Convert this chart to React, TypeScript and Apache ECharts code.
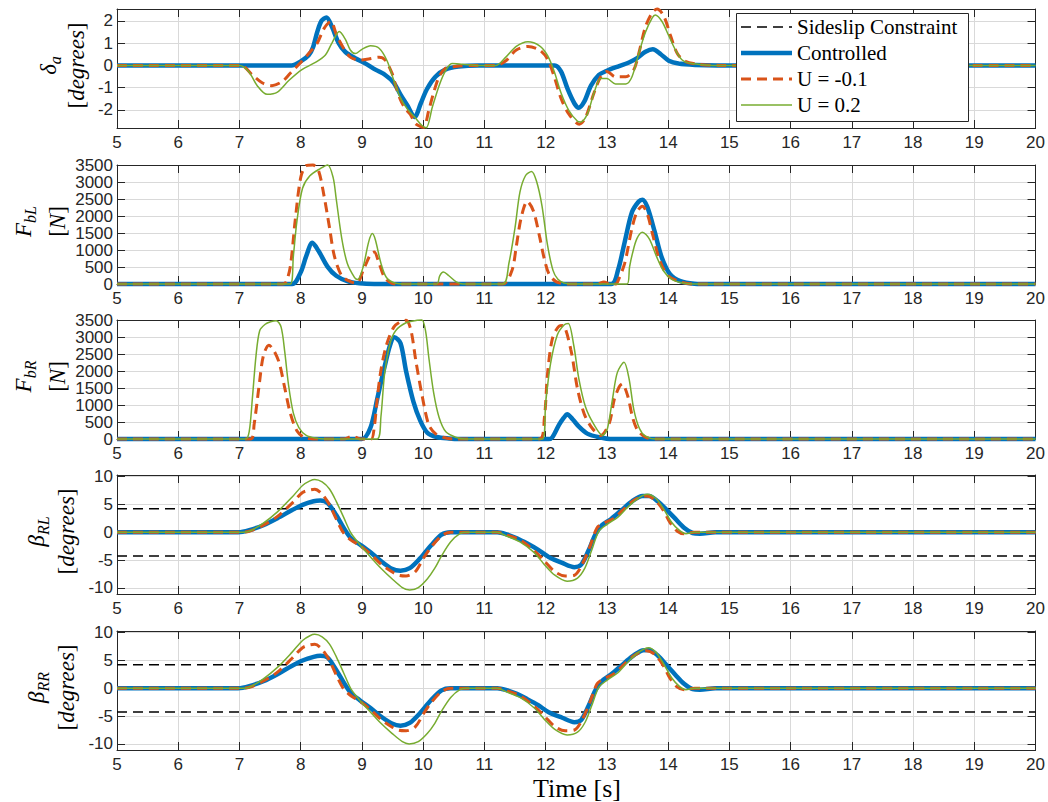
import React, { useEffect, useRef } from "react";
import * as echarts from "echarts";

type P = [number, number][];

const legendNames = ["Sideslip Constraint", "Controlled", "U = -0.1", "U = 0.2"];
const constraintLevel = 4.25;
const timeRange = [5, 20];

// ---- delta_a [degrees]
const daCtrl: P = [[5,0],[7.85,0],[8.0,0.18],[8.13,0.45],[8.2,0.8],[8.27,1.5],[8.34,2.0],[8.42,2.15],[8.51,1.73],[8.62,1.0],[8.73,0.6],[8.89,0.32],[9.06,0.08],[9.22,-0.19],[9.38,-0.43],[9.52,-0.78],[9.63,-1.31],[9.74,-1.79],[9.86,-2.32],[9.96,-1.71],[10.06,-1.07],[10.2,-0.51],[10.36,-0.19],[10.58,-0.05],[10.9,0],[12.15,0],[12.25,-0.27],[12.36,-1.07],[12.47,-1.71],[12.54,-1.9],[12.63,-1.63],[12.74,-0.91],[12.87,-0.43],[13.0,-0.24],[13.2,-0.03],[13.36,0.13],[13.5,0.34],[13.63,0.61],[13.75,0.72],[13.88,0.5],[14.01,0.21],[14.17,0.08],[14.45,0.02],[14.8,0],[20,0]];
const daU1: P = [[5,0],[7.02,0],[7.21,-0.43],[7.37,-0.78],[7.53,-0.91],[7.7,-0.72],[7.83,-0.35],[8.0,0.13],[8.13,0.53],[8.27,1.0],[8.38,1.65],[8.49,1.97],[8.59,1.33],[8.7,0.77],[8.81,0.37],[8.95,0.24],[9.11,0.29],[9.28,0.37],[9.38,0.24],[9.49,-0.35],[9.55,-0.9],[9.63,-1.55],[9.71,-1.95],[9.79,-2.2],[9.87,-2.6],[9.96,-2.75],[10.01,-2.78],[10.09,-2.03],[10.17,-1.23],[10.26,-0.51],[10.36,-0.14],[10.53,-0.05],[10.8,0],[11.19,0],[11.35,0.21],[11.52,0.69],[11.71,0.85],[11.9,0.69],[12.03,0.29],[12.14,-0.51],[12.25,-1.47],[12.38,-2.19],[12.55,-2.64],[12.65,-2.35],[12.79,-1.23],[12.9,-0.51],[13.0,-0.27],[13.14,-0.51],[13.31,-0.51],[13.44,-0.19],[13.52,0.53],[13.63,1.73],[13.74,2.37],[13.82,2.53],[13.93,2.21],[14.04,1.33],[14.15,0.53],[14.28,0.18],[14.5,0.05],[14.83,0],[20,0]];
const daU2: P = [[5,0],[7.0,0],[7.15,-0.27],[7.29,-0.91],[7.45,-1.3],[7.62,-1.2],[7.81,-0.67],[8.02,-0.19],[8.24,0.13],[8.4,0.45],[8.51,1.0],[8.63,1.52],[8.73,1.17],[8.81,0.69],[8.89,0.53],[9.0,0.72],[9.14,0.88],[9.28,0.77],[9.41,0.21],[9.52,-0.67],[9.63,-1.47],[9.74,-1.95],[9.87,-2.35],[9.98,-2.7],[10.05,-2.8],[10.15,-1.87],[10.26,-0.91],[10.36,-0.27],[10.47,0.08],[10.64,0.05],[10.9,0],[11.19,0],[11.35,0.37],[11.52,0.85],[11.71,1.06],[11.9,0.88],[12.03,0.45],[12.14,-0.27],[12.25,-1.23],[12.38,-2.03],[12.52,-2.51],[12.57,-2.54],[12.68,-2.19],[12.79,-1.23],[12.9,-0.59],[13.0,-0.59],[13.14,-0.83],[13.31,-0.83],[13.41,-0.51],[13.52,0.53],[13.63,1.49],[13.74,2.13],[13.79,2.26],[13.9,1.97],[14.01,1.33],[14.12,0.69],[14.23,0.24],[14.39,0.08],[14.72,0],[20,0]];

// ---- F_bL [N]
const fblCtrl: P = [[5,0],[7.86,0],[8.0,347],[8.09,820],[8.19,1210],[8.29,977],[8.44,505],[8.58,242],[8.76,84],[8.96,20],[9.2,0],[13.07,0],[13.18,396],[13.29,1229],[13.41,2115],[13.52,2427],[13.58,2480],[13.66,2270],[13.78,1542],[13.89,812],[14.03,292],[14.2,83],[14.43,10],[14.7,0],[20,0]];
const fblU1: P = [[5,0],[7.7,0],[7.76,60],[7.83,505],[7.91,1870],[8.0,3130],[8.09,3480],[8.2,3500],[8.29,3340],[8.38,2600],[8.47,1660],[8.55,820],[8.67,242],[8.82,63],[8.92,30],[9.02,400],[9.14,872],[9.2,940],[9.28,610],[9.37,190],[9.49,20],[9.6,0],[11.3,0],[11.45,400],[11.52,1100],[11.6,1950],[11.7,2430],[11.8,2150],[11.9,1400],[11.97,800],[12.05,310],[12.17,70],[12.35,0],[12.85,0],[12.95,60],[13.05,0],[13.15,0],[13.18,83],[13.29,604],[13.41,1646],[13.49,2115],[13.58,2290],[13.66,2060],[13.75,1437],[13.86,708],[14.0,240],[14.2,62],[14.4,0],[20,0]];
const fblU2: P = [[5,0],[7.83,0],[7.88,820],[7.94,1870],[8.03,2817],[8.15,3184],[8.32,3394],[8.44,3500],[8.53,3130],[8.58,2500],[8.67,1345],[8.76,610],[8.88,190],[8.93,136],[9.02,505],[9.11,1240],[9.17,1482],[9.22,1292],[9.31,610],[9.4,190],[9.55,20],[9.7,0],[10.22,0],[10.27,242],[10.33,350],[10.42,242],[10.54,63],[10.65,0],[11.3,0],[11.4,610],[11.5,1660],[11.58,2700],[11.67,3184],[11.77,3310],[11.85,3027],[11.94,2300],[12.03,1150],[12.12,400],[12.2,137],[12.3,30],[12.45,0],[13.33,0],[13.37,500],[13.42,917],[13.49,1333],[13.58,1521],[13.69,1333],[13.81,812],[13.92,396],[14.06,135],[14.26,20],[14.5,0],[20,0]];

// ---- F_bR [N]
const fbrCtrl: P = [[5,0],[9.0,0],[9.14,338],[9.25,1181],[9.37,2130],[9.46,2764],[9.53,2990],[9.63,2816],[9.72,2000],[9.84,1100],[9.95,550],[10.07,180],[10.22,60],[10.42,15],[10.6,0],[12.05,0],[12.11,53],[12.22,422],[12.3,633],[12.35,730],[12.44,580],[12.54,369],[12.68,158],[12.87,53],[13.09,0],[20,0]];
const fbrU1: P = [[5,0],[7.18,0],[7.24,443],[7.33,1709],[7.39,2447],[7.48,2760],[7.56,2605],[7.65,2236],[7.74,1498],[7.83,760],[7.94,232],[8.06,42],[8.2,0],[8.7,0],[8.85,80],[8.98,0],[9.15,0],[9.2,338],[9.25,1181],[9.31,2025],[9.4,2764],[9.52,3291],[9.63,3449],[9.72,3490],[9.8,3200],[9.88,2300],[9.98,1300],[10.09,420],[10.2,160],[10.35,35],[10.5,0],[11.9,0],[11.98,633],[12.03,1900],[12.11,2954],[12.22,3323],[12.28,3340],[12.41,2637],[12.52,1477],[12.63,738],[12.76,316],[12.9,105],[13.04,475],[13.12,1160],[13.2,1530],[13.25,1620],[13.34,1266],[13.42,633],[13.5,264],[13.63,53],[13.8,0],[20,0]];
const fbrU2: P = [[5,0],[7.1,0],[7.16,232],[7.21,1181],[7.27,2447],[7.33,3186],[7.42,3376],[7.51,3449],[7.6,3480],[7.68,3291],[7.74,2553],[7.8,1603],[7.88,760],[7.97,338],[8.09,105],[8.26,20],[8.4,0],[9.25,0],[9.31,654],[9.37,1920],[9.46,2816],[9.55,3186],[9.72,3418],[9.9,3490],[9.98,3500],[10.04,3165],[10.09,2426],[10.17,1371],[10.26,633],[10.37,211],[10.53,53],[10.69,0],[11.95,0],[12.0,1055],[12.08,2215],[12.19,3059],[12.3,3354],[12.37,3400],[12.46,2743],[12.54,1793],[12.65,949],[12.79,422],[12.93,105],[13.01,316],[13.09,1160],[13.17,1952],[13.28,2257],[13.36,1793],[13.44,865],[13.53,316],[13.63,84],[13.8,0],[20,0]];

// ---- beta_RL [degrees]
const brlCtrl: P = [[5,0],[6.98,0],[7.16,0.38],[7.39,1.27],[7.62,2.53],[7.86,3.99],[8.03,4.94],[8.21,5.57],[8.32,5.7],[8.44,5.25],[8.58,3.1],[8.7,0.82],[8.82,-1.08],[8.96,-2.15],[9.14,-3.6],[9.31,-5.19],[9.49,-6.58],[9.63,-6.9],[9.78,-6.46],[9.95,-4.68],[10.13,-2.34],[10.3,-0.44],[10.45,0],[11.21,0],[11.35,-0.32],[11.53,-1.08],[11.7,-2.03],[11.88,-3.16],[12.05,-4.43],[12.27,-5.5],[12.47,-6.27],[12.58,-5.82],[12.7,-3.29],[12.81,-0.44],[12.92,1.27],[13.07,2.4],[13.24,3.99],[13.41,5.57],[13.58,6.52],[13.69,6.52],[13.83,5.57],[13.98,3.99],[14.12,2.4],[14.26,0.82],[14.4,-0.13],[14.52,-0.25],[14.77,0],[20,0]];
const brlU1: P = [[5,0],[7.0,0],[7.16,0.19],[7.39,1.27],[7.62,2.85],[7.86,5.25],[8.03,7.15],[8.15,7.6],[8.23,7.72],[8.35,6.84],[8.47,4.94],[8.58,2.4],[8.7,-0.13],[8.82,-1.39],[8.96,-2.34],[9.14,-3.92],[9.31,-5.7],[9.49,-7.09],[9.6,-7.72],[9.72,-7.85],[9.87,-7.09],[10.01,-4.56],[10.13,-2.66],[10.3,-0.63],[10.45,0],[11.21,0],[11.35,-0.44],[11.58,-1.39],[11.81,-3.29],[11.98,-5.19],[12.15,-7.09],[12.32,-7.85],[12.47,-7.72],[12.58,-6.14],[12.72,-2.66],[12.84,0.82],[12.95,1.65],[13.12,2.53],[13.29,4.3],[13.46,5.89],[13.64,6.52],[13.78,5.89],[13.92,3.99],[14.03,1.77],[14.15,0.19],[14.26,-0.25],[14.43,0],[20,0]];
const brlU2: P = [[5,0],[7.0,0],[7.16,0.19],[7.39,1.65],[7.62,3.67],[7.86,6.33],[8.03,8.42],[8.15,9.24],[8.23,9.49],[8.35,9.05],[8.47,7.78],[8.58,5.57],[8.7,2.72],[8.82,-0.13],[8.96,-2.15],[9.14,-4.43],[9.31,-6.46],[9.49,-8.35],[9.66,-9.94],[9.78,-10.4],[9.92,-9.94],[10.07,-8.35],[10.19,-6.46],[10.3,-4.24],[10.45,-1.71],[10.6,-0.25],[10.71,0],[11.21,0],[11.35,-0.63],[11.58,-1.71],[11.81,-3.61],[11.98,-5.82],[12.15,-7.72],[12.35,-8.8],[12.52,-8.23],[12.64,-6.46],[12.75,-3.29],[12.87,0.19],[13.01,1.46],[13.18,2.72],[13.35,4.62],[13.52,6.2],[13.66,6.84],[13.8,6.08],[13.92,4.3],[14.06,1.77],[14.18,0.38],[14.29,-0.25],[14.43,0],[20,0]];

// ---- beta_RR [degrees]
const brrCtrl: P = [[5,0],[6.98,0],[7.16,0.38],[7.39,1.27],[7.62,2.54],[7.86,4.06],[8.03,5.0],[8.21,5.65],[8.32,5.84],[8.44,5.52],[8.58,3.3],[8.7,1.08],[8.82,-0.83],[8.96,-2.1],[9.14,-3.56],[9.31,-5.08],[9.49,-6.35],[9.63,-6.73],[9.78,-6.22],[9.95,-4.44],[10.13,-2.1],[10.3,-0.38],[10.45,0],[11.21,0],[11.35,-0.3],[11.53,-1.0],[11.7,-1.95],[11.88,-3.05],[12.05,-4.3],[12.27,-5.3],[12.47,-6.1],[12.58,-5.7],[12.7,-3.2],[12.81,-0.4],[12.92,1.3],[13.07,2.5],[13.24,4.1],[13.41,5.7],[13.58,6.8],[13.69,6.9],[13.83,5.9],[13.98,4.1],[14.12,2.4],[14.26,0.8],[14.4,-0.15],[14.52,-0.25],[14.77,0],[20,0]];
const brrU1: P = [[5,0],[7.0,0],[7.16,0.19],[7.39,1.3],[7.62,2.9],[7.86,5.4],[8.03,7.3],[8.15,7.8],[8.23,7.9],[8.35,7.0],[8.47,5.0],[8.58,2.4],[8.7,-0.1],[8.82,-1.35],[8.96,-2.3],[9.14,-3.85],[9.31,-5.6],[9.49,-6.95],[9.6,-7.55],[9.72,-7.65],[9.87,-6.95],[10.01,-4.5],[10.13,-2.6],[10.3,-0.6],[10.45,0],[11.21,0],[11.35,-0.4],[11.58,-1.35],[11.81,-3.2],[11.98,-5.0],[12.15,-6.9],[12.32,-7.65],[12.47,-7.5],[12.58,-6.0],[12.72,-2.6],[12.84,0.8],[12.95,1.7],[13.12,2.6],[13.29,4.4],[13.46,6.0],[13.64,6.75],[13.78,6.1],[13.92,4.1],[14.03,1.8],[14.15,0.2],[14.26,-0.25],[14.43,0],[20,0]];
const brrU2: P = [[5,0],[7.0,0],[7.16,0.19],[7.39,1.7],[7.62,3.75],[7.86,6.5],[8.03,8.6],[8.15,9.45],[8.23,9.7],[8.35,9.25],[8.47,7.95],[8.58,5.7],[8.7,2.8],[8.82,-0.1],[8.96,-2.1],[9.14,-4.3],[9.31,-6.3],[9.49,-8.1],[9.66,-9.6],[9.77,-10.0],[9.92,-9.6],[10.07,-8.1],[10.19,-6.3],[10.3,-4.1],[10.45,-1.65],[10.6,-0.25],[10.71,0],[11.21,0],[11.35,-0.6],[11.58,-1.65],[11.81,-3.5],[11.98,-5.6],[12.15,-7.4],[12.35,-8.4],[12.52,-7.9],[12.64,-6.2],[12.75,-3.2],[12.87,0.2],[13.01,1.5],[13.18,2.8],[13.35,4.8],[13.52,6.5],[13.68,7.3],[13.8,6.5],[13.92,4.5],[14.06,1.85],[14.18,0.4],[14.29,-0.25],[14.43,0],[20,0]];

const panels = [
  { ctrl: daCtrl, u1: daU1, u2: daU2, min: -2.81, max: 2.53, interval: undefined as number | undefined, constraint: false, edgeLabels: false },
  { ctrl: fblCtrl, u1: fblU1, u2: fblU2, min: 0, max: 3500, interval: 500, constraint: false, edgeLabels: true },
  { ctrl: fbrCtrl, u1: fbrU1, u2: fbrU2, min: 0, max: 3500, interval: 500, constraint: false, edgeLabels: true },
  { ctrl: brlCtrl, u1: brlU1, u2: brlU2, min: -11.1, max: 10.3, interval: undefined, constraint: true, edgeLabels: false },
  { ctrl: brrCtrl, u1: brrU1, u2: brrU2, min: -11.1, max: 10.3, interval: undefined, constraint: true, edgeLabels: false },
];

const gridTops = [9, 165, 320, 475, 631];
const gridHeight = 119;

const AX = "#262626";
const GRIDC = "#d9d9d9";
const BLUE = "#0072BD";
const ORANGE = "#D95319";
const GREEN = "#77AC30";

const seriesStyles = [
  { color: "#000000", width: 1.5, dash: [10, 6] as number[] | null },
  { color: BLUE, width: 4.5, dash: null },
  { color: ORANGE, width: 3, dash: [10, 6] },
  { color: GREEN, width: 1.5, dash: null },
];

const tickFont = { color: AX, fontSize: 17, fontFamily: "Liberation Sans, Arial, sans-serif" };

const mathRich = {
  m: { fontFamily: "Liberation Serif", fontStyle: "italic", fontSize: 23, lineHeight: 30, verticalAlign: "middle", fill: "#000", color: "#000" },
  s: { fontFamily: "Liberation Serif", fontStyle: "italic", fontSize: 16, lineHeight: 16, verticalAlign: "bottom", fill: "#000", color: "#000" },
  b: { fontFamily: "Liberation Serif", fontSize: 23, lineHeight: 30, verticalAlign: "middle", fill: "#000", color: "#000" },
};

function rotText(x: number, y: number, text: string) {
  return {
    type: "text",
    x,
    y,
    rotation: Math.PI / 2,
    silent: true,
    style: {
      text,
      rich: mathRich,
      align: "center",
      verticalAlign: "middle",
      textAlign: "center",
      textVerticalAlign: "middle",
      fill: "#000",
    },
  };
}

const yLabels = [
  { l1: "{m|δ}{s|a}", l2: "{b|[}{m|degrees}{b|]}", x1: 48, x2: 76 },
  { l1: "{m|F}{s|bL}", l2: "{b|[}{m|N}{b|]}", x1: 23, x2: 57 },
  { l1: "{m|F}{s|bR}", l2: "{b|[}{m|N}{b|]}", x1: 23, x2: 57 },
  { l1: "{m|β}{s|RL}", l2: "{b|[}{m|degrees}{b|]}", x1: 36, x2: 66 },
  { l1: "{m|β}{s|RR}", l2: "{b|[}{m|degrees}{b|]}", x1: 36, x2: 66 },
];

export default function App() {
  const ref = useRef<HTMLDivElement>(null);
  useEffect(() => {
    if (!ref.current) return;
    const chart = echarts.init(ref.current, undefined, { renderer: "svg" });

    const grid: any[] = [];
    const xAxis: any[] = [];
    const yAxis: any[] = [];
    const series: any[] = [];
    const graphic: any[] = [];

    const lineStyleOf = (k: number) => {
      const s = seriesStyles[k];
      return { color: s.color, width: s.width, type: s.dash ? s.dash : "solid" };
    };

    panels.forEach((p, i) => {
      grid.push({ left: 117, right: 11, top: gridTops[i], height: gridHeight });
      const xBase = {
        type: "value", gridIndex: i, min: timeRange[0], max: timeRange[1], interval: 1,
        axisLine: { show: true, onZero: false, lineStyle: { color: AX, width: 1 } },
        axisTick: { show: true, inside: true, length: 8, lineStyle: { color: AX } },
      };
      xAxis.push({ ...xBase, position: "bottom", axisLabel: { ...tickFont, margin: 6 }, splitLine: { show: true, lineStyle: { color: GRIDC, width: 1 } } });
      xAxis.push({ ...xBase, position: "top", axisLabel: { show: false }, splitLine: { show: false } });
      const yBase: any = {
        type: "value", gridIndex: i, min: p.min, max: p.max,
        axisLine: { show: true, onZero: false, lineStyle: { color: AX, width: 1 } },
        axisTick: { show: true, inside: true, length: 8, lineStyle: { color: AX } },
      };
      if (p.interval !== undefined) yBase.interval = p.interval;
      yAxis.push({
        ...yBase, position: "left",
        axisLabel: { ...tickFont, margin: 4, showMinLabel: p.edgeLabels, showMaxLabel: p.edgeLabels, formatter: (v: number) => String(v) },
        splitLine: { show: true, lineStyle: { color: GRIDC, width: 1 } },
      });
      yAxis.push({ ...yBase, position: "right", axisLabel: { show: false }, splitLine: { show: false } });

      const common = { type: "line", xAxisIndex: 2 * i, yAxisIndex: 2 * i, showSymbol: false, symbol: "none", clip: false, silent: true };
      if (p.constraint) {
        [constraintLevel, -constraintLevel].forEach((lv) => {
          series.push({ ...common, name: legendNames[0], z: 2, data: [[timeRange[0], lv], [timeRange[1], lv]], lineStyle: lineStyleOf(0) });
        });
      }
      series.push({ ...common, name: legendNames[1], z: 3, smooth: 0.3, data: p.ctrl, lineStyle: lineStyleOf(1) });
      series.push({ ...common, name: legendNames[2], z: 4, smooth: 0.3, data: p.u1, lineStyle: lineStyleOf(2) });
      series.push({ ...common, name: legendNames[3], z: 5, smooth: 0.3, data: p.u2, lineStyle: lineStyleOf(3) });

      const cy = gridTops[i] + gridHeight / 2 - 3;
      graphic.push(rotText(yLabels[i].x1, cy, yLabels[i].l1));
      graphic.push(rotText(yLabels[i].x2, cy, yLabels[i].l2));
    });

    // legend box (drawn as graphics so that dashes and widths match)
    const lgX = 736, lgY = 13, lgW = 232, lgH = 108;
    const rowY = [27, 53, 79, 105];
    graphic.push({
      type: "rect", z: 100, silent: true,
      shape: { x: lgX + 0.5, y: lgY + 0.5, width: lgW, height: lgH },
      style: { fill: "#ffffff", stroke: AX, lineWidth: 1 },
    });
    legendNames.forEach((nm, k) => {
      const s = seriesStyles[k];
      graphic.push({
        type: "line", z: 101, silent: true,
        shape: { x1: lgX + 5, y1: rowY[k], x2: lgX + 56, y2: rowY[k] },
        style: { stroke: s.color, lineWidth: s.width, lineDash: s.dash ? s.dash : null },
      });
      graphic.push({
        type: "text", z: 101, x: lgX + 61, y: rowY[k], silent: true,
        style: { text: nm, font: "21px Liberation Serif", fill: "#000", align: "left", verticalAlign: "middle", textAlign: "left", textVerticalAlign: "middle" },
      });
    });

    graphic.push({
      type: "text", x: 577, y: 788, silent: true,
      style: { text: "Time [s]", font: "26px Liberation Serif", fill: "#000", align: "center", verticalAlign: "middle", textAlign: "center", textVerticalAlign: "middle" },
    });

    chart.setOption({
      animation: false,
      backgroundColor: "#ffffff",
      grid,
      xAxis,
      yAxis,
      series,
      graphic,
    });
    return () => chart.dispose();
  }, []);
  return <div ref={ref} style={{ position: "fixed", left: 0, top: 0, width: 1048, height: 802 }} />;
}
